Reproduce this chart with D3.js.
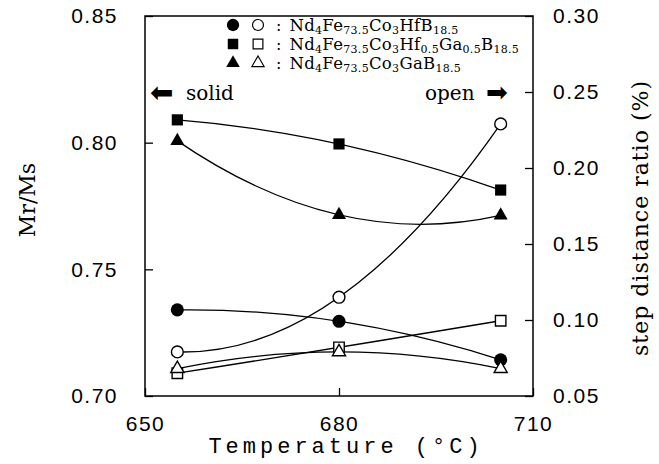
<!DOCTYPE html>
<html>
<head>
<meta charset="utf-8">
<script src="https://cdn.jsdelivr.net/npm/d3@7"></script>
<style>
  body { margin: 0; background: #fff; }
</style>
</head>
<body>
<script>
// temperatures (°C)
const temps = [655, 680, 705];

// solid markers -> Mr/Ms (left axis)
const mrHfB = [0.734, 0.7295, 0.7143];
const mrHfGa = [0.809, 0.7995, 0.7813];
const mrGa = [0.8007, 0.7715, 0.7713];

// open markers -> step distance ratio (right axis)
const stepHfB = [0.079, 0.115, 0.229];
const stepHfGa = [0.065, 0.082, 0.0995];
const stepGa = [0.068, 0.079, 0.068];

const xTicks = [650, 680, 710];
const leftTicks = [0.70, 0.75, 0.80, 0.85];
const rightTicks = [0.05, 0.10, 0.15, 0.20, 0.25, 0.30];

// legend labels: [text, isSubscript]
const legendHfB = [['Nd', 0], ['4', 1], ['Fe', 0], ['73.5', 1], ['Co', 0], ['3', 1], ['HfB', 0], ['18.5', 1]];
const legendHfGa = [['Nd', 0], ['4', 1], ['Fe', 0], ['73.5', 1], ['Co', 0], ['3', 1], ['Hf', 0], ['0.5', 1], ['Ga', 0], ['0.5', 1], ['B', 0], ['18.5', 1]];
const legendGa = [['Nd', 0], ['4', 1], ['Fe', 0], ['73.5', 1], ['Co', 0], ['3', 1], ['GaB', 0], ['18.5', 1]];

const width = 659, height = 464;
const plotL = 145, plotR = 533, plotT = 16, plotB = 396;

const svg = d3.select('body').append('svg')
  .attr('width', width)
  .attr('height', height)
  .style('background', '#fff');

const x = d3.scaleLinear().domain([650, 710]).range([plotL, plotR]);
const yL = d3.scaleLinear().domain([0.70, 0.85]).range([plotB, plotT]);
const yR = d3.scaleLinear().domain([0.05, 0.30]).range([plotB, plotT]);

const tickFont = '"Liberation Sans", Arial, sans-serif';
const serif = '"DejaVu Serif", serif';

// axes, ticks pointing inward
function styleAxis(g) {
  g.select('.domain').remove();
  g.selectAll('.tick line').attr('stroke', '#000').attr('stroke-width', 1.3);
  g.selectAll('.tick text')
    .attr('fill', '#000')
    .style('font-family', tickFont)
    .style('font-size', '21px')
    .style('letter-spacing', '1.5px');
}

svg.append('g')
  .attr('transform', `translate(${plotL},0)`)
  .call(d3.axisLeft(yL).tickValues(leftTicks).tickFormat(d3.format('.2f')).tickSize(-8).tickPadding(27))
  .call(styleAxis);

svg.append('g')
  .attr('transform', `translate(${plotR},0)`)
  .call(d3.axisRight(yR).tickValues(rightTicks).tickFormat(d3.format('.2f')).tickSize(-8).tickPadding(20))
  .call(styleAxis);

svg.append('g')
  .attr('transform', `translate(0,${plotB})`)
  .call(d3.axisBottom(x).tickValues(xTicks).tickSize(-8).tickPadding(20))
  .call(styleAxis);

svg.append('rect')
  .attr('x', plotL).attr('y', plotT)
  .attr('width', plotR - plotL).attr('height', plotB - plotT)
  .attr('fill', 'none').attr('stroke', '#000').attr('stroke-width', 1.5);

// axis titles
svg.append('text')
  .attr('transform', 'translate(27,200) rotate(-90)')
  .attr('text-anchor', 'middle')
  .attr('dominant-baseline', 'central')
  .style('font-family', serif).style('font-size', '22px')
  .text('Mr/Ms');

svg.append('text')
  .attr('transform', 'translate(640,218) rotate(-90)')
  .attr('text-anchor', 'middle')
  .attr('dominant-baseline', 'central')
  .style('font-family', serif).style('font-size', '22px')
  .style('letter-spacing', '1px')
  .text('step distance ratio (%)');

svg.append('text')
  .attr('x', 346).attr('y', 453)
  .attr('text-anchor', 'middle')
  .style('font-family', '"Liberation Mono", "Courier New", monospace')
  .style('font-size', '22px')
  .style('letter-spacing', '4px')
  .text('Temperature (°C)');

// smooth curve: parabola through three points, as a quadratic bezier
function curveQuad(context) {
  let pts;
  return {
    areaStart() {}, areaEnd() {},
    lineStart() { pts = []; },
    point(px, py) { pts.push([+px, +py]); },
    lineEnd() {
      const [a, b, c] = pts;
      context.moveTo(a[0], a[1]);
      context.quadraticCurveTo(2 * b[0] - (a[0] + c[0]) / 2, 2 * b[1] - (a[1] + c[1]) / 2, c[0], c[1]);
    }
  };
}

const series = [
  { vals: mrHfB, y: yL, sym: d3.symbolCircle, size: 135, filled: true },
  { vals: mrHfGa, y: yL, sym: d3.symbolSquare, size: 125, filled: true },
  { vals: mrGa, y: yL, sym: d3.symbolTriangle, size: 85, filled: true },
  { vals: stepHfB, y: yR, sym: d3.symbolCircle, size: 110, filled: false },
  { vals: stepHfGa, y: yR, sym: d3.symbolSquare, size: 110, filled: false },
  { vals: stepGa, y: yR, sym: d3.symbolTriangle, size: 75, filled: false }
];

series.forEach(s => {
  const pts = temps.map((t, i) => [t, s.vals[i]]);
  const line = d3.line().x(d => x(d[0])).y(d => s.y(d[1])).curve(curveQuad);
  svg.append('path')
    .attr('d', line(pts))
    .attr('fill', 'none').attr('stroke', '#000').attr('stroke-width', 1.3);
});

series.forEach(s => {
  const pts = temps.map((t, i) => [t, s.vals[i]]);
  svg.append('g').selectAll('path')
    .data(pts)
    .enter().append('path')
    .attr('transform', d => `translate(${x(d[0])},${s.y(d[1])})`)
    .attr('d', d3.symbol().type(s.sym).size(s.size))
    .attr('fill', s.filled ? '#000' : '#fff')
    .attr('stroke', '#000')
    .attr('stroke-width', s.filled ? 0 : 1.4);
});

// legend
const legendRows = [
  { parts: legendHfB, sym: d3.symbolCircle, sizeF: 120, sizeO: 95, y: 25 },
  { parts: legendHfGa, sym: d3.symbolSquare, sizeF: 110, sizeO: 95, y: 44 },
  { parts: legendGa, sym: d3.symbolTriangle, sizeF: 80, sizeO: 65, y: 63 }
];

legendRows.forEach(r => {
  svg.append('path')
    .attr('transform', `translate(233,${r.y})`)
    .attr('d', d3.symbol().type(r.sym).size(r.sizeF))
    .attr('fill', '#000');
  svg.append('path')
    .attr('transform', `translate(258,${r.y})`)
    .attr('d', d3.symbol().type(r.sym).size(r.sizeO))
    .attr('fill', '#fff').attr('stroke', '#000').attr('stroke-width', 1.2);
  // colon and formula in one text so the row is a single label
  const t = svg.append('text')
    .attr('x', 276).attr('y', r.y + 6)
    .style('font-family', serif).style('font-size', '16px');
  t.append('tspan').text(':\u2002');
  let wasSub = false;
  r.parts.forEach(([txt, sub]) => {
    t.append('tspan')
      .attr('dy', sub ? 2.5 : (wasSub ? -2.5 : 0))
      .style('font-size', sub ? '11px' : '16.5px')
      .style('letter-spacing', '0.3px')
      .text(txt);
    wasSub = !!sub;
  });
});

// solid / open hints
svg.append('text')
  .attr('x', 150).attr('y', 102)
  .style('font-family', '"DejaVu Sans", sans-serif').style('font-size', '28px')
  .text('\u2B05');
svg.append('text')
  .attr('x', 186).attr('y', 100)
  .style('font-family', serif).style('font-size', '20px')
  .text('solid');
svg.append('text')
  .attr('x', 425).attr('y', 100)
  .style('font-family', serif).style('font-size', '20px')
  .text('open');
svg.append('text')
  .attr('x', 486).attr('y', 101)
  .style('font-family', '"DejaVu Sans", sans-serif').style('font-size', '26px')
  .text('\u27A1');
</script>
</body>
</html>
